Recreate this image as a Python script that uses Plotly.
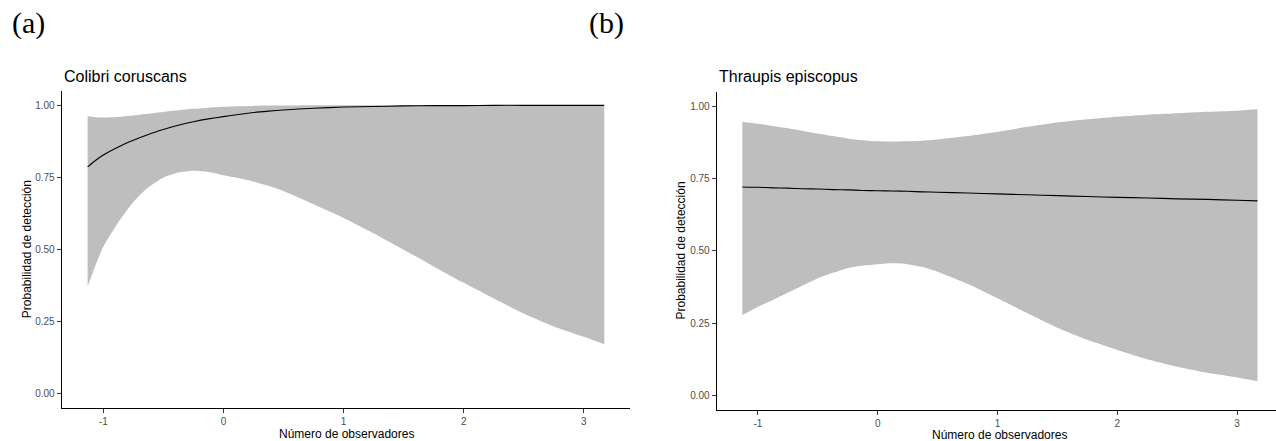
import plotly.graph_objects as go

W, H = 1276, 441

# ---- data ----
x_grid = [-1.13, -1.065, -1.0, -0.875, -0.75, -0.625, -0.5, -0.375, -0.25, -0.125, 0.0,
          0.125, 0.25, 0.375, 0.5, 0.75, 1.0, 1.25, 1.5, 1.75, 2.0, 2.25, 2.5, 2.75, 3.0, 3.17]

colibri_lower = [0.372, 0.445, 0.51, 0.595, 0.665, 0.716, 0.75, 0.767, 0.773, 0.769, 0.758,
                 0.748, 0.736, 0.721, 0.703, 0.657, 0.61, 0.557, 0.50, 0.442, 0.385, 0.331,
                 0.279, 0.234, 0.198, 0.172]
colibri_upper = [0.962, 0.959, 0.958, 0.96, 0.965, 0.971, 0.977, 0.983, 0.988, 0.992, 0.995,
                 0.997, 0.998, 0.999, 0.999, 1.0, 1.0, 1.0, 1.0, 1.0, 1.0, 1.0, 1.0, 1.0, 1.0, 1.0]
colibri_mean = [0.787, 0.809, 0.828, 0.856, 0.879, 0.899, 0.916, 0.931, 0.943, 0.953, 0.961,
                0.968, 0.975, 0.98, 0.984, 0.99, 0.994, 0.996, 0.998, 0.999, 0.999, 1.0, 1.0,
                1.0, 1.0, 1.0]

thraupis_lower = [0.278, 0.292, 0.307, 0.33, 0.355, 0.38, 0.405, 0.424, 0.44, 0.449, 0.454,
                  0.457, 0.454, 0.444, 0.428, 0.386, 0.336, 0.284, 0.234, 0.192, 0.157, 0.125,
                  0.099, 0.078, 0.062, 0.049]
thraupis_upper = [0.947, 0.943, 0.94, 0.932, 0.924, 0.915, 0.906, 0.897, 0.889, 0.883, 0.879,
                  0.878, 0.879, 0.881, 0.885, 0.897, 0.912, 0.929, 0.944, 0.955, 0.964, 0.971,
                  0.976, 0.981, 0.985, 0.99]
thraupis_mean = [0.721, 0.72, 0.72, 0.718, 0.717, 0.715, 0.714, 0.712, 0.711, 0.709, 0.708,
                 0.707, 0.706, 0.704, 0.703, 0.70, 0.697, 0.694, 0.691, 0.688, 0.685, 0.683,
                 0.68, 0.678, 0.675, 0.673]

x_ticks = [-1, 0, 1, 2, 3]
x_ticktext = ["-1", "0", "1", "2", "3"]
y_ticks = [0, 0.25, 0.5, 0.75, 1.0]
y_ticktext = ["0.00", "0.25", "0.50", "0.75", "1.00"]

panel_titles = ["Colibri coruscans", "Thraupis episcopus"]
panel_tags = ["(a)", "(b)"]
x_title = "Número de observadores"
y_title = "Probabilidad de detección"

RIB = "#BEBEBE"

fig = go.Figure()

def add_panel(lower, upper, mean, xa, ya):
    fig.add_trace(go.Scatter(x=x_grid, y=lower, mode="lines", line=dict(width=0, shape="spline", smoothing=0.5),
                             xaxis=xa, yaxis=ya, showlegend=False, hoverinfo="skip"))
    fig.add_trace(go.Scatter(x=x_grid, y=upper, mode="lines", line=dict(width=0, shape="spline", smoothing=0.5),
                             fill="tonexty", fillcolor=RIB,
                             xaxis=xa, yaxis=ya, showlegend=False, hoverinfo="skip"))
    fig.add_trace(go.Scatter(x=x_grid, y=mean, mode="lines",
                             line=dict(color="black", width=1.1, shape="spline", smoothing=0.5),
                             xaxis=xa, yaxis=ya, showlegend=False))

add_panel(colibri_lower, colibri_upper, colibri_mean, "x", "y")
add_panel(thraupis_lower, thraupis_upper, thraupis_mean, "x2", "y2")

def px_x(p):
    return p / W

def px_y(p):
    return 1 - p / H

tickfont = dict(family="Liberation Sans, Arial, sans-serif", size=10, color="#4D4D4D")

def xaxis_cfg(dom, rng, anchor):
    return dict(domain=dom, range=rng, anchor=anchor, tickmode="array", tickvals=x_ticks,
                ticktext=x_ticktext, ticks="outside", ticklen=4, tickwidth=1, tickcolor="#333333",
                showline=True, linecolor="black", linewidth=1.1, showgrid=False, zeroline=False,
                tickfont=tickfont, fixedrange=True)

def yaxis_cfg(dom, anchor):
    return dict(domain=dom, range=[-0.05, 1.05], anchor=anchor, tickmode="array", tickvals=y_ticks,
                ticktext=y_ticktext, ticks="outside", ticklen=4, tickwidth=1, tickcolor="#333333",
                showline=True, linecolor="black", linewidth=1.1, showgrid=False, zeroline=False,
                tickfont=tickfont, fixedrange=True)

fig.update_layout(
    width=W, height=H,
    margin=dict(l=0, r=0, t=0, b=0),
    paper_bgcolor="white", plot_bgcolor="white",
    xaxis=xaxis_cfg([px_x(61.7), px_x(630)], [-1.346, 3.384], "y"),
    yaxis=yaxis_cfg([px_y(408.4), px_y(90.9)], "x"),
    xaxis2=xaxis_cfg([px_x(716.7), 1.0], [-1.344, (1276 - 877.7) / 119.8], "y2"),
    yaxis2=yaxis_cfg([px_y(409.8), px_y(91.9)], "x2"),
)

ann = []
font_title = dict(family="Liberation Sans, Arial, sans-serif", size=16, color="black")
font_axis = dict(family="Liberation Sans, Arial, sans-serif", size=12, color="black")
font_tag = dict(family="Liberation Serif, Times New Roman, serif", size=30, color="black")

for tx, px0 in zip(panel_titles, [61.7, 716.7]):
    ann.append(dict(text=tx, x=px_x(px0), y=px_y(76), xref="paper", yref="paper",
                    xanchor="left", yanchor="middle", showarrow=False, font=font_title))
for tg, cx in zip(panel_tags, [28, 606]):
    ann.append(dict(text=tg, x=px_x(cx), y=px_y(23), xref="paper", yref="paper",
                    xanchor="center", yanchor="middle", showarrow=False, font=font_tag))
for cx, cy in [(346, 433.5), (999, 434.5)]:
    ann.append(dict(text=x_title, x=px_x(cx), y=px_y(cy), xref="paper", yref="paper",
                    xanchor="center", yanchor="middle", showarrow=False, font=font_axis))
for cx, cy in [(26.7, 249.5), (681, 250.5)]:
    ann.append(dict(text=y_title, x=px_x(cx), y=px_y(cy), xref="paper", yref="paper",
                    xanchor="center", yanchor="middle", showarrow=False, textangle=-90, font=font_axis))

fig.update_layout(annotations=ann)

fig.write_html("out.html", config={"displayModeBar": False})

# remove default page margins so the figure fills the window exactly
with open("out.html", "r", encoding="utf-8") as f:
    html = f.read()
html = html.replace("<head>", "<head><style>html,body{margin:0;padding:0;overflow:hidden;}</style>", 1)
with open("out.html", "w", encoding="utf-8") as f:
    f.write(html)
